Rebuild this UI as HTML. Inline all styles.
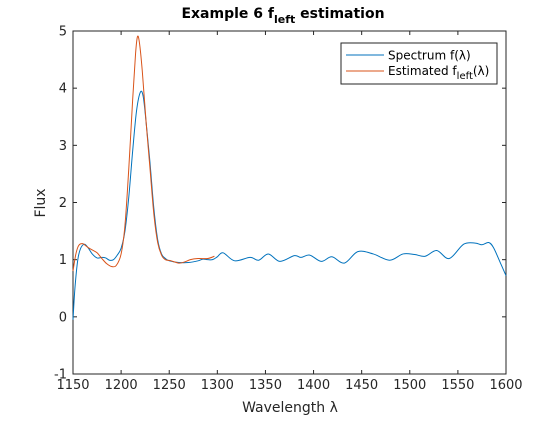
<!DOCTYPE html>
<html><head><meta charset="utf-8"><style>
body{margin:0;background:#fff;font-family:"DejaVu Sans","Liberation Sans",sans-serif}
svg text{font-family:"DejaVu Sans","Liberation Sans",sans-serif}
</style></head><body>
<svg id="c" width="560" height="420" xmlns="http://www.w3.org/2000/svg">
<rect width="560" height="420" fill="#fff"/>
<g id="plot"></g>
</svg>
<script>
const specX=[1150,1152,1155,1158,1162,1166,1170,1175,1180,1184,1188,1192,1196,1200,1204,1208,1212,1216,1220,1223,1226,1230,1234,1238,1242,1246,1250,1260,1270,1280,1285,1290,1295,1300,1306,1318,1334,1343,1353,1365,1380,1387,1396,1408,1419,1432,1446,1462,1479,1493,1505,1516,1528,1541,1556,1568,1575,1582,1587,1594,1600];
const specY=[-0.05,0.5,1.0,1.2,1.27,1.2,1.1,1.03,1.04,1.03,0.99,1.0,1.08,1.2,1.5,2.1,2.9,3.6,3.93,3.85,3.4,2.7,1.9,1.35,1.1,1.02,0.98,0.95,0.95,0.98,1.01,1.0,1.0,1.05,1.12,0.98,1.04,0.99,1.1,0.97,1.07,1.04,1.08,0.97,1.05,0.94,1.14,1.1,0.99,1.1,1.09,1.06,1.16,1.02,1.27,1.29,1.26,1.3,1.21,0.95,0.72];
const estX=[1150,1153,1156,1160,1165,1170,1175,1180,1185,1190,1195,1200,1204,1208,1212,1215,1217,1219,1222,1226,1230,1234,1238,1242,1246,1252,1260,1266,1272,1280,1290,1297];
const estY=[0.8,1.1,1.25,1.28,1.22,1.17,1.12,1.02,0.93,0.88,0.9,1.1,1.6,2.6,3.8,4.6,4.9,4.8,4.3,3.4,2.6,1.8,1.3,1.08,1.0,0.98,0.94,0.96,1.0,1.02,1.02,1.06];
const xTicks=[1150,1200,1250,1300,1350,1400,1450,1500,1550,1600];
const yTicks=[-1,0,1,2,3,4,5];
const L=73,R=506,T=31,B=374;
const sx=v=>L+(v-1150)/450*(R-L);
const sy=v=>B-(v+1)/6*(B-T);
const NS="http://www.w3.org/2000/svg";
const g=document.getElementById('plot');
function mk(t,a,p){const e=document.createElementNS(NS,t);for(const k in a)e.setAttribute(k,a[k]);(p||g).appendChild(e);return e;}
function path(xs,ys){const P=xs.map((x,i)=>[sx(x),sy(ys[i])]);let d=`M${P[0][0]},${P[0][1]}`;
for(let i=0;i<P.length-1;i++){const p0=P[i-1]||P[i],p1=P[i],p2=P[i+1],p3=P[i+2]||p2;
d+=` C${p1[0]+(p2[0]-p0[0])/6},${p1[1]+(p2[1]-p0[1])/6} ${p2[0]-(p3[0]-p1[0])/6},${p2[1]-(p3[1]-p1[1])/6} ${p2[0]},${p2[1]}`;}return d;}
const ax=mk('rect',{x:L,y:T,width:R-L,height:B-T,fill:'#fff',stroke:'#262626','stroke-width':1});


xTicks.forEach(t=>{const x=sx(t);
mk('line',{x1:x,x2:x,y1:B,y2:B-4,stroke:'#262626'});mk('line',{x1:x,x2:x,y1:T,y2:T+4,stroke:'#262626'});
const tx=mk('text',{x:x,y:B+15,'text-anchor':'middle','font-size':13,fill:'#262626'});tx.textContent=t;

});
yTicks.forEach(t=>{const y=sy(t);
mk('line',{x1:L,x2:L+4,y1:y,y2:y,stroke:'#262626'});mk('line',{x1:R,x2:R-4,y1:y,y2:y,stroke:'#262626'});
const tx=mk('text',{x:L-6,y:y+4.5,'text-anchor':'end','font-size':13,fill:'#262626'});tx.textContent=t;

});
const s1=mk('path',{d:path(specX,specY),fill:'none',stroke:'#0072BD','stroke-width':1});


const s2=mk('path',{d:path(estX,estY),fill:'none',stroke:'#D95319','stroke-width':1});


</script>
<svg width="560" height="420" style="position:absolute;left:0;top:0" xmlns="http://www.w3.org/2000/svg">
<text x="283" y="18" text-anchor="middle" font-size="14" font-weight="bold" fill="#000">Example 6 f<tspan font-size="11" dy="5">left</tspan><tspan dy="-5"> estimation</tspan></text>
<text x="290" y="412" text-anchor="middle" font-size="14" fill="#262626">Wavelength λ</text>
<text transform="translate(45,203) rotate(-90)" text-anchor="middle" font-size="14" fill="#262626">Flux</text>
<g>
<rect x="341" y="43" width="156" height="41" fill="#fff" stroke="#262626" stroke-width="1"/>
<line x1="346" x2="384" y1="55" y2="55" stroke="#0072BD"/>
<text x="388" y="59.5" font-size="12" fill="#000">Spectrum f(λ)</text>
<line x1="346" x2="384" y1="71" y2="71" stroke="#D95319"/>
<text x="388" y="75" font-size="12" fill="#000">Estimated f<tspan font-size="10" dy="4">left</tspan><tspan dy="-4">(λ)</tspan></text>
</g>
</svg>
</body></html>
